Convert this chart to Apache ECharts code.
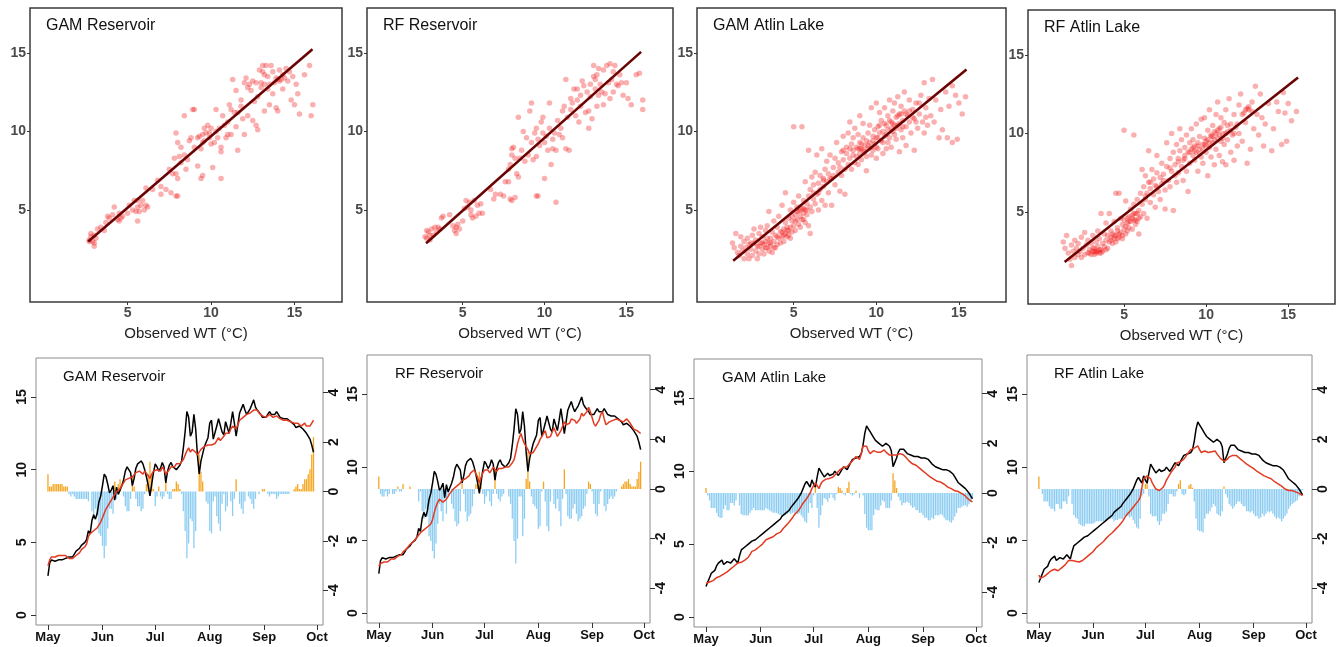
<!DOCTYPE html>
<html>
<head>
<meta charset="utf-8">
<script src="https://cdn.jsdelivr.net/npm/echarts@6/dist/echarts.min.js"></script>
<style>html,body{margin:0;padding:0;background:#fff}#c{width:1338px;height:647px}</style>
</head>
<body>
<div id="c"></div>
<script>
// ---------------- DATA ----------------
const panelTitlesTop = ['GAM Reservoir', 'RF Reservoir', 'GAM Atlin Lake', 'RF Atlin Lake'];
const panelTitlesBottom = ['GAM Reservoir', 'RF Reservoir', 'GAM Atlin Lake', 'RF Atlin Lake'];
const scatterTicks = [5, 10, 15];
const xAxisTitle = 'Observed WT (°C)';

// scatter: [observed, predicted]
const gamResPts = [[2.7,3.1],[2.8,3.3],[2.9,3.0],[3.0,3.4],[2.8,3.5],[3.0,2.9],[3.1,3.2],[2.7,3.0],[3.0,2.7],[3.2,3.8],[3.4,3.9],[3.6,3.7],[3.7,4.2],[3.8,4.6],[3.9,4.5],[4.1,4.7],[4.2,5.2],[4.4,4.4],[4.5,4.3],[4.6,4.5],[4.5,4.8],[4.7,4.6],[5.0,4.8],[5.1,5.3],[5.3,5.0],[5.4,5.6],[5.5,4.9],[5.6,5.2],[5.7,4.9],[5.6,5.6],[5.8,5.3],[5.9,5.6],[6.0,5.0],[6.1,5.3],[6.2,5.2],[5.6,4.3],[6.1,6.4],[6.5,6.3],[6.8,6.9],[7.0,6.5],[7.0,6.0],[7.3,6.3],[7.5,7.6],[7.7,7.3],[7.6,6.1],[7.9,5.9],[8.0,5.9],[7.9,7.3],[8.0,7.0],[8.1,8.4],[7.8,8.3],[7.9,9.9],[8.0,9.3],[8.2,9.0],[8.2,8.0],[8.4,8.5],[8.4,11.0],[8.5,7.6],[8.6,8.2],[8.7,9.4],[8.8,9.6],[8.9,11.4],[9.0,11.4],[9.0,9.0],[9.2,9.6],[9.3,9.7],[9.4,7.0],[9.5,7.2],[9.2,7.8],[9.4,8.9],[9.5,9.3],[9.5,9.8],[9.6,9.4],[9.6,10.2],[9.7,9.9],[9.8,10.4],[9.9,9.6],[9.9,9.9],[10.0,10.2],[10.0,9.2],[10.1,7.7],[10.2,9.3],[10.3,11.4],[10.3,10.0],[10.4,9.6],[10.5,10.2],[10.6,8.7],[10.6,9.0],[10.6,7.0],[10.7,11.0],[10.8,10.4],[10.9,9.6],[11.0,10.6],[11.0,9.8],[11.1,11.7],[11.2,11.4],[11.2,9.8],[11.3,13.3],[11.4,11.2],[11.5,12.6],[11.6,8.8],[11.5,10.3],[11.6,11.2],[11.8,11.6],[11.8,12.0],[11.9,10.8],[12.0,9.8],[12.0,13.1],[12.1,13.4],[12.2,11.0],[12.2,12.8],[12.3,13.0],[12.4,12.6],[12.5,13.2],[12.5,10.7],[12.6,11.9],[12.7,10.4],[12.7,13.1],[12.8,10.1],[12.8,12.2],[12.9,13.9],[13.0,12.8],[13.0,13.1],[13.1,13.8],[13.1,14.2],[13.2,13.6],[13.2,11.3],[13.2,13.0],[13.3,14.2],[13.4,12.7],[13.4,13.5],[13.5,11.7],[13.5,13.0],[13.6,14.2],[13.7,12.4],[13.7,13.8],[13.8,13.1],[13.9,11.5],[13.9,13.4],[14.0,13.3],[14.0,11.3],[14.1,13.2],[14.1,13.9],[14.2,13.3],[14.3,13.6],[14.3,12.7],[14.4,13.4],[14.5,14.0],[14.6,13.2],[14.7,13.8],[14.8,12.0],[14.9,13.5],[15.0,11.7],[15.1,13.0],[15.2,12.4],[15.3,11.1],[15.6,13.6],[15.9,14.2],[16.0,11.0],[16.1,11.7]];
const rfResPts = [[2.7,3.3],[2.8,3.2],[2.9,3.6],[3.0,3.4],[3.1,3.8],[3.2,3.4],[3.3,3.9],[3.4,3.6],[3.5,3.9],[3.6,3.8],[2.8,3.7],[3.0,3.1],[3.7,4.5],[3.8,4.6],[4.2,4.7],[4.4,4.0],[4.5,3.7],[4.6,3.5],[4.6,3.9],[4.7,4.1],[4.8,3.8],[5.0,4.3],[5.1,5.1],[5.2,5.6],[5.3,5.2],[5.4,5.5],[5.5,4.7],[5.5,5.0],[5.6,4.5],[5.7,5.6],[5.8,4.6],[5.9,5.3],[6.0,4.8],[6.1,5.4],[6.2,4.8],[6.7,6.3],[6.9,5.7],[7.0,6.0],[7.3,6.0],[7.5,5.9],[7.6,6.8],[7.8,6.8],[7.9,5.7],[8.0,5.6],[8.2,5.8],[7.8,7.6],[7.9,7.9],[8.0,8.5],[8.0,8.9],[8.1,9.0],[8.2,8.3],[8.3,7.3],[8.4,7.1],[8.4,10.9],[8.5,8.3],[8.6,8.8],[8.7,10.0],[8.8,8.1],[8.9,9.6],[9.0,8.5],[9.1,11.3],[9.2,11.8],[9.2,9.3],[9.3,8.2],[9.4,9.9],[9.5,10.2],[9.5,5.9],[9.6,5.9],[9.5,8.4],[9.6,9.5],[9.7,9.1],[9.8,10.6],[9.9,9.9],[9.9,10.9],[10.0,7.0],[10.0,9.3],[10.1,9.7],[10.2,8.8],[10.3,11.8],[10.3,10.2],[10.4,7.9],[10.5,9.5],[10.5,8.9],[10.6,9.9],[10.7,5.5],[10.7,8.8],[10.8,10.7],[10.9,9.8],[11.0,10.2],[11.1,11.3],[11.1,9.6],[11.2,11.6],[11.3,13.3],[11.3,8.9],[11.4,10.9],[11.5,8.8],[11.6,12.1],[11.6,11.4],[11.7,11.8],[11.8,12.7],[11.9,11.0],[12.0,12.0],[12.0,12.7],[12.1,10.6],[12.2,12.3],[12.2,11.6],[12.3,13.2],[12.4,12.9],[12.5,11.2],[12.6,12.5],[12.7,10.2],[12.7,11.3],[12.8,13.0],[12.8,12.2],[12.9,10.8],[13.0,14.2],[13.0,13.5],[13.1,13.3],[13.1,12.7],[13.2,13.6],[13.2,11.6],[13.3,14.0],[13.3,12.3],[13.4,13.0],[13.5,12.5],[13.6,13.9],[13.6,11.7],[13.7,12.4],[13.8,14.2],[13.9,13.1],[14.0,12.1],[14.0,14.3],[14.1,13.3],[14.2,12.5],[14.2,13.8],[14.3,14.2],[14.4,13.0],[14.5,12.9],[14.6,13.6],[14.7,13.1],[14.8,12.3],[15.0,13.1],[15.1,12.1],[15.3,11.7],[15.6,13.6],[15.8,13.7],[16.0,12.0],[16.0,11.4]];
const gamAtlinPts = [[1.3,2.9],[1.4,2.6],[1.5,3.5],[1.6,2.3],[1.7,2.1],[1.8,2.7],[1.8,3.3],[1.9,2.4],[2.0,1.9],[2.0,3.0],[2.1,2.6],[2.2,2.2],[2.2,3.2],[2.3,2.8],[2.3,1.9],[2.4,2.5],[2.5,3.4],[2.5,2.1],[2.6,2.9],[2.6,3.8],[2.7,2.4],[2.7,3.1],[2.8,2.7],[2.8,1.9],[2.9,3.5],[2.9,2.2],[3.0,2.9],[3.0,3.9],[3.1,2.5],[3.1,3.3],[3.2,2.8],[3.2,2.2],[3.3,3.0],[3.3,3.7],[3.4,2.6],[3.4,4.0],[3.5,2.9],[3.5,2.4],[3.5,4.9],[3.6,3.2],[3.6,2.7],[3.7,3.6],[3.7,2.3],[3.8,3.0],[3.8,4.3],[3.9,2.6],[3.9,3.4],[4.0,3.9],[4.0,2.8],[4.1,3.2],[4.1,4.6],[4.2,3.6],[4.2,2.9],[4.3,5.3],[4.3,3.3],[4.4,3.8],[4.4,3.0],[4.5,3.5],[4.5,6.1],[4.5,4.2],[4.6,3.3],[4.6,3.7],[4.7,3.4],[4.7,4.5],[4.8,3.9],[4.8,3.2],[4.8,5.0],[4.9,3.6],[4.9,4.3],[5.0,4.0],[5.0,10.3],[5.0,5.5],[5.1,4.7],[5.1,3.7],[5.2,4.4],[5.2,5.2],[5.3,4.9],[5.3,4.1],[5.3,5.9],[5.4,4.6],[5.4,3.9],[5.5,5.1],[5.5,4.4],[5.5,10.3],[5.6,4.8],[5.6,5.6],[5.7,4.2],[5.7,5.0],[5.7,6.8],[5.8,4.7],[5.8,5.4],[5.9,5.9],[5.9,4.0],[5.9,8.8],[6.0,5.2],[6.0,6.3],[6.0,3.5],[6.1,4.9],[6.1,7.1],[6.2,5.7],[6.2,6.6],[6.3,5.4],[6.3,7.4],[6.4,6.0],[6.4,8.5],[6.5,6.7],[6.5,5.0],[6.6,7.2],[6.6,6.3],[6.7,5.6],[6.7,8.9],[6.8,7.0],[6.8,6.5],[6.9,7.6],[6.9,5.3],[7.0,6.8],[7.0,8.1],[7.1,7.3],[7.1,6.1],[7.2,8.5],[7.3,7.0],[7.3,5.3],[7.4,7.7],[7.5,8.3],[7.5,6.6],[7.6,9.3],[7.7,7.4],[7.7,8.0],[7.8,6.2],[7.9,8.7],[7.9,7.2],[8.0,9.7],[8.0,8.2],[8.1,7.6],[8.1,6.0],[8.2,9.0],[8.2,8.6],[8.3,7.9],[8.3,9.9],[8.4,8.3],[8.4,10.6],[8.5,9.2],[8.5,7.6],[8.6,8.8],[8.6,9.6],[8.7,8.0],[8.7,10.2],[8.8,9.0],[8.8,8.4],[8.9,9.8],[8.9,7.9],[9.0,8.6],[9.0,9.3],[9.0,11.0],[9.1,8.9],[9.1,8.2],[9.2,9.6],[9.2,10.5],[9.3,8.7],[9.3,9.1],[9.4,7.5],[9.4,8.4],[9.5,9.9],[9.5,8.9],[9.6,10.4],[9.6,9.3],[9.7,8.5],[9.7,11.5],[9.8,9.7],[9.8,8.8],[9.9,10.1],[9.9,9.2],[10.0,8.3],[10.0,11.8],[10.0,9.6],[10.1,10.3],[10.1,8.9],[10.2,9.9],[10.2,11.2],[10.3,9.4],[10.3,10.7],[10.4,8.6],[10.4,10.0],[10.5,11.5],[10.5,9.7],[10.6,10.4],[10.6,8.9],[10.7,11.0],[10.7,9.3],[10.8,10.7],[10.8,12.0],[10.9,10.2],[10.9,9.0],[11.0,11.3],[11.0,10.5],[11.1,9.8],[11.1,11.8],[11.2,10.9],[11.2,9.5],[11.3,10.4],[11.3,12.2],[11.4,11.1],[11.4,8.7],[11.5,10.1],[11.5,11.6],[11.6,10.7],[11.6,9.6],[11.7,11.3],[11.7,12.5],[11.8,10.3],[11.8,9.1],[11.9,11.0],[12.0,10.6],[12.0,12.0],[12.1,9.9],[12.2,11.4],[12.3,10.8],[12.3,8.8],[12.4,11.8],[12.5,10.2],[12.6,11.1],[12.7,12.3],[12.8,10.6],[12.9,9.9],[12.9,13.1],[13.0,11.5],[13.1,10.4],[13.2,12.1],[13.3,11.0],[13.4,13.3],[13.5,10.6],[13.6,12.0],[13.8,9.6],[13.9,11.4],[14.0,10.1],[14.2,12.5],[14.3,9.6],[14.4,11.6],[14.6,12.9],[14.6,9.3],[14.8,12.3],[14.9,9.5],[15.0,11.8],[15.2,11.1],[15.4,12.2],
[2.4,2.9],[2.9,2.7],[3.1,2.9],[3.3,2.6],[3.4,3.2],[3.6,2.9],[3.8,2.6],[4.0,3.3],[4.3,3.6],[4.4,3.4],[4.6,3.9],[4.7,3.7],[4.9,4.6],[5.1,4.3],[5.2,4.9],[5.4,5.0],[5.6,5.1],[5.8,5.0],[5.6,4.4],[6.2,6.1],[6.5,6.1],[6.8,6.9],[7.2,7.0],[7.4,7.2],[7.8,7.7],[8.0,8.8],[8.4,8.9],[8.6,8.5],[8.9,8.9],[9.0,8.9],[9.1,9.2],[9.2,8.8],[9.4,9.4],[9.5,9.1],[9.7,9.0],[9.8,9.4],[10.0,9.0],[10.1,9.6],[10.2,10.4],[10.4,9.3],[10.5,10.5],[10.6,9.8],[10.7,10.1],[10.8,9.6],[10.9,10.6],[11.0,10.0],[11.1,10.4],[11.2,10.2],[11.3,11.0],[11.4,10.5],[11.5,11.1],[11.6,10.3],[11.8,11.1],[12.0,11.3],[12.2,10.9],[12.4,10.6],[12.6,11.8],[13.0,10.9]];
const rfAtlinPts = [[1.3,3.1],[1.4,2.7],[1.5,3.5],[1.6,2.4],[1.7,2.0],[1.8,1.6],[1.8,2.9],[1.9,2.5],[2.0,3.2],[2.0,2.1],[2.1,2.7],[2.2,2.3],[2.2,3.0],[2.3,2.5],[2.4,2.1],[2.4,3.4],[2.5,2.7],[2.6,2.3],[2.6,3.7],[2.7,2.9],[2.8,2.4],[2.8,3.2],[2.9,2.6],[3.0,2.3],[3.0,3.0],[3.1,2.5],[3.1,3.5],[3.2,2.7],[3.2,2.3],[3.3,3.1],[3.3,2.5],[3.4,2.8],[3.4,3.8],[3.5,2.4],[3.5,3.3],[3.6,2.6],[3.6,4.9],[3.7,3.0],[3.7,2.5],[3.8,3.6],[3.8,2.8],[3.9,3.2],[3.9,4.3],[4.0,2.7],[4.0,3.5],[4.1,3.1],[4.1,4.9],[4.2,3.4],[4.2,3.8],[4.3,3.0],[4.3,3.6],[4.4,3.3],[4.4,4.4],[4.5,3.5],[4.5,6.2],[4.5,3.1],[4.6,3.8],[4.6,4.0],[4.7,3.4],[4.7,6.2],[4.8,3.7],[4.8,4.6],[4.9,3.3],[4.9,4.2],[5.0,3.9],[5.0,10.2],[5.0,4.5],[5.1,3.6],[5.1,4.1],[5.1,5.7],[5.2,4.3],[5.2,3.8],[5.3,4.7],[5.3,4.0],[5.4,4.4],[5.4,5.2],[5.5,4.8],[5.5,3.9],[5.6,4.5],[5.6,9.9],[5.6,5.5],[5.7,4.2],[5.7,4.9],[5.8,5.8],[5.8,4.4],[5.9,5.1],[5.9,3.6],[6.0,4.7],[6.0,6.2],[6.1,5.5],[6.1,7.7],[6.2,4.9],[6.2,6.6],[6.3,5.8],[6.3,7.3],[6.4,6.2],[6.4,4.6],[6.5,6.9],[6.5,8.9],[6.6,5.6],[6.6,6.5],[6.7,7.7],[6.8,6.1],[6.8,7.1],[6.9,5.3],[6.9,6.7],[7.0,7.5],[7.0,8.6],[7.1,6.3],[7.2,7.2],[7.2,5.8],[7.3,8.1],[7.3,6.8],[7.4,7.4],[7.5,5.2],[7.5,6.4],[7.6,7.9],[7.6,9.4],[7.7,7.0],[7.8,8.4],[7.8,6.6],[7.9,10.0],[7.9,7.6],[8.0,5.1],[8.0,8.8],[8.1,7.3],[8.1,8.0],[8.2,9.3],[8.2,6.9],[8.3,8.4],[8.3,7.5],[8.4,10.3],[8.4,8.9],[8.5,7.9],[8.5,9.6],[8.6,8.3],[8.6,7.0],[8.7,9.1],[8.7,8.6],[8.8,9.9],[8.8,7.6],[8.9,8.8],[8.9,6.3],[9.0,9.4],[9.0,8.1],[9.1,9.0],[9.1,10.3],[9.2,8.6],[9.2,9.6],[9.3,8.3],[9.3,9.2],[9.4,10.6],[9.4,8.8],[9.5,9.4],[9.5,7.6],[9.6,9.0],[9.6,9.8],[9.7,8.5],[9.7,10.9],[9.8,9.3],[9.8,8.1],[9.9,9.7],[9.9,11.0],[10.0,8.8],[10.0,9.5],[10.1,10.2],[10.1,7.3],[10.2,9.1],[10.2,11.5],[10.3,9.8],[10.3,8.5],[10.4,10.5],[10.4,9.4],[10.5,8.0],[10.5,10.1],[10.6,11.2],[10.6,9.0],[10.7,9.7],[10.7,12.0],[10.8,10.3],[10.8,8.6],[10.9,9.5],[10.9,11.0],[11.0,10.0],[11.0,8.2],[11.1,10.7],[11.1,9.3],[11.2,11.5],[11.2,8.0],[11.3,10.1],[11.3,9.6],[11.4,12.2],[11.5,10.6],[11.5,8.8],[11.6,9.9],[11.7,11.2],[11.7,8.3],[11.8,10.4],[11.9,9.2],[12.0,11.8],[12.0,10.0],[12.1,12.5],[12.2,9.5],[12.3,11.3],[12.4,10.7],[12.5,11.6],[12.5,8.1],[12.6,11.5],[12.7,9.0],[12.8,12.0],[12.9,10.3],[13.0,13.0],[13.1,11.2],[13.2,9.9],[13.3,12.5],[13.4,11.0],[13.5,9.2],[13.6,10.6],[13.8,11.9],[14.0,8.9],[14.1,10.3],[14.3,12.0],[14.4,11.4],[14.6,9.3],[14.7,12.6],[14.8,11.3],[14.9,9.5],[15.0,11.9],[15.2,10.8],[15.5,11.4],
[2.9,2.4],[3.1,2.7],[3.2,2.5],[3.3,2.4],[3.4,2.5],[3.5,2.6],[3.6,2.4],[3.9,2.6],[4.2,3.2],[4.4,3.5],[4.6,3.3],[4.7,3.6],[4.9,3.5],[5.2,4.6],[5.3,4.4],[5.5,4.6],[5.6,4.9],[5.7,4.5],[5.8,4.9],[5.9,4.6],[6.3,6.0],[6.6,6.9],[7.0,6.6],[7.4,7.0],[7.8,7.8],[8.3,8.2],[8.7,8.4],[9.0,8.8],[9.2,9.1],[9.3,8.9],[9.5,9.2],[9.6,8.7],[9.8,9.0],[9.9,9.3],[10.0,9.2],[10.1,9.6],[10.2,9.4],[10.3,9.9],[10.4,9.8],[10.5,9.6],[10.6,10.0],[10.7,10.2],[10.8,9.9],[10.9,10.4],[11.0,9.7],[11.2,10.0],[11.3,10.5],[11.5,10.2],[11.7,10.0],[11.9,10.6],[12.2,11.2],[12.4,11.5],[12.6,11.7],[12.8,11.4]];

// fitted lines (start, end)
const gamResFit = [[2.64,3.0],[16.08,15.23]];
const rfResFit = [[2.76,2.89],[15.9,15.06]];
const gamAtlinFit = [[1.34,1.77],[15.46,13.94]];
const rfAtlinFit = [[1.38,1.82],[15.6,13.55]];

// time series: daily values, day 0 = May 1
const monthLabels = ['May','Jun','Jul','Aug','Sep','Oct'];
const monthStartDay = [0, 31, 61, 92, 123, 153];
const leftTicks = [0, 5, 10, 15];
const rightTicks = [-4, -2, 0, 2, 4];

const obsRes = [2.7,3.6,3.8,3.8,3.7,3.8,3.8,3.7,3.8,3.9,
3.9,3.8,4.0,4.1,4.0,4.2,4.4,4.5,4.6,4.8,
4.9,5.0,5.2,5.8,5.6,6.5,6.9,6.6,7.0,7.8,
8.2,8.9,9.7,9.5,9.0,8.4,8.6,8.9,7.9,8.8,
8.3,8.2,8.9,9.3,9.9,10.2,10.2,9.8,8.9,9.4,
10.1,10.4,10.5,10.6,10.4,10.0,9.5,8.9,8.2,9.0,
9.8,10.4,10.2,9.9,10.1,10.5,10.2,9.1,9.9,10.3,
10.5,10.2,10.1,10.0,10.0,10.3,10.6,11.5,12.6,14.0,
13.6,12.3,12.6,13.8,12.8,11.0,9.7,10.6,11.1,11.6,
11.9,12.2,13.2,13.4,12.1,12.0,13.0,13.5,13.6,12.6,
12.4,13.3,13.2,12.5,13.2,14.0,13.2,12.3,13.1,13.9,
14.2,14.5,14.1,13.8,14.0,14.2,14.5,14.8,14.3,14.1,
14.0,13.8,13.6,13.5,13.6,13.8,14.0,13.8,13.7,13.8,
14.0,13.8,13.6,13.5,13.5,13.6,13.5,13.4,13.3,13.2,
13.1,12.9,12.9,13.0,12.9,12.8,12.7,12.5,12.4,12.1,
11.7,11.2];
const gamRes = [3.4,3.8,4.0,4.1,4.0,4.1,4.1,4.0,4.1,4.1,
4.1,4.0,3.9,3.9,3.9,4.0,4.1,4.2,4.3,4.5,
4.6,4.7,4.9,5.4,5.6,5.7,5.8,5.9,6.0,6.1,
6.4,6.7,7.0,7.3,7.5,7.7,7.9,8.0,8.3,8.5,
8.6,8.7,8.9,9.1,9.3,9.4,9.4,9.5,9.5,9.6,
9.8,9.8,9.9,9.8,9.7,9.9,9.8,9.6,9.4,9.7,
9.9,9.8,10.0,10.1,9.9,10.2,10.0,9.7,9.8,10.0,
10.2,10.3,10.2,10.4,10.3,10.4,10.5,10.7,11.0,11.3,
11.5,11.2,11.4,11.5,11.2,11.0,11.2,11.4,11.5,11.6,
11.5,11.7,11.6,11.7,11.7,11.8,12.0,12.2,12.0,12.1,
12.3,12.5,12.6,12.5,12.8,13.0,12.9,12.8,13.1,13.4,
13.5,13.6,13.7,13.8,13.8,13.9,14.0,14.1,14.0,14.1,
13.9,13.8,13.7,13.6,13.6,13.7,13.8,13.7,13.6,13.7,
13.7,13.6,13.5,13.4,13.4,13.5,13.4,13.3,13.3,13.2,
13.2,13.1,13.2,13.1,13.0,13.1,13.2,13.0,13.1,13.0,
13.2,13.4];
const rfRes = [3.2,3.4,3.5,3.5,3.6,3.5,3.6,3.7,3.6,3.7,
3.8,3.9,3.9,4.0,4.2,4.2,4.4,4.5,4.7,4.8,
4.9,5.0,5.2,5.3,5.5,5.6,5.7,5.8,5.9,5.9,
6.1,6.4,6.9,7.3,7.6,7.8,7.7,7.6,7.5,7.8,
8.0,8.2,8.3,8.5,8.6,8.7,8.8,8.9,9.1,9.2,
9.2,9.1,9.4,9.6,9.7,9.8,9.7,9.3,8.9,9.3,
9.6,9.8,9.9,9.8,9.6,9.8,10.0,9.9,9.7,9.9,
10.0,9.9,9.9,10.0,10.0,10.0,10.0,10.3,10.5,11.0,
11.6,12.0,12.3,11.9,11.6,11.4,11.2,10.9,10.8,11.0,
11.2,11.4,11.6,11.9,12.0,12.3,12.5,12.0,11.9,12.1,
12.4,12.7,12.4,12.1,12.3,12.5,12.8,13.1,12.9,12.8,
13.0,13.3,13.3,13.2,13.0,12.9,13.3,13.7,13.5,13.4,
13.8,14.1,13.8,13.4,13.0,12.8,12.9,13.2,13.6,13.8,
13.3,12.9,13.0,13.1,13.2,13.2,13.2,13.3,13.3,13.2,
13.2,13.1,13.2,13.3,13.3,13.0,12.8,12.6,12.5,12.5,
12.4,12.3];
const obsAtlin = [2.1,2.4,2.7,3.0,3.1,3.2,3.5,3.7,3.8,3.9,
3.6,3.5,3.8,3.9,3.7,3.8,4.0,3.9,3.7,4.2,
4.6,4.7,4.8,4.9,5.0,5.1,5.2,5.2,5.3,5.4,
5.5,5.6,5.7,5.8,5.9,6.0,6.1,6.2,6.3,6.4,
6.5,6.6,6.7,6.9,7.0,7.1,7.2,7.3,7.5,7.6,
7.8,7.9,8.1,8.2,8.5,8.8,9.1,9.3,9.1,8.9,
9.4,9.1,8.9,9.6,10.2,10.0,9.8,9.6,9.7,9.85,
9.7,9.6,9.8,10.0,9.9,9.7,9.9,10.1,10.3,10.4,
10.1,10.0,10.6,10.8,10.9,10.9,10.9,11.0,11.2,11.8,
12.6,13.1,12.9,12.7,12.8,12.3,12.1,12.0,11.9,11.8,
11.7,11.8,11.9,11.8,11.7,11.4,10.3,10.6,10.9,11.3,
11.5,11.6,11.5,11.4,11.2,11.1,11.1,11.1,11.0,11.1,
11.0,11.0,10.9,10.9,10.9,10.8,10.8,10.7,10.5,10.5,
10.3,10.2,10.2,10.1,10.1,10.1,10.1,10.0,10.0,10.0,
9.8,9.6,9.4,9.2,9.1,9.0,8.9,8.8,8.7,8.5,
8.3,8.1];
const gamAtlin = [2.3,2.3,2.4,2.4,2.5,2.6,2.7,2.75,2.8,2.9,
2.95,3.0,3.1,3.2,3.3,3.4,3.5,3.6,3.7,3.7,
3.75,3.8,3.9,4.0,4.1,4.3,4.5,4.6,4.6,4.7,
4.8,4.9,5.0,5.1,5.3,5.35,5.4,5.45,5.5,5.6,
5.7,5.75,5.8,5.95,6.1,6.2,6.35,6.5,6.65,6.8,
7.0,7.1,7.25,7.4,7.6,7.8,7.95,8.1,8.3,8.5,
8.8,9.0,9.2,9.0,8.8,9.1,9.3,9.4,9.45,9.5,
9.5,9.55,9.6,9.7,9.85,9.95,10.1,10.2,10.25,10.3,
10.3,10.45,10.55,10.7,10.85,11.0,10.9,10.8,11.2,11.7,
11.75,11.7,11.4,11.2,11.3,11.4,11.45,11.3,11.2,11.3,
11.4,11.45,11.3,11.2,11.1,11.1,11.1,11.1,11.1,11.15,
11.2,11.1,11.1,11.0,10.85,10.7,10.6,10.5,10.45,10.4,
10.3,10.2,10.1,10.0,9.9,9.8,9.7,9.6,9.5,9.45,
9.4,9.3,9.3,9.25,9.2,9.1,9.0,8.9,8.85,8.8,
8.7,8.65,8.6,8.6,8.5,8.45,8.4,8.3,8.15,8.05,
7.95,7.9];
const rfAtlin = [2.6,2.4,2.5,2.5,2.6,2.7,2.8,2.9,3.0,3.0,
3.0,2.9,3.0,3.1,3.2,3.3,3.4,3.6,3.7,3.6,
3.55,3.55,3.6,3.5,3.55,3.6,3.7,3.8,3.9,4.0,
4.1,4.2,4.35,4.5,4.6,4.7,4.8,4.9,5.05,5.15,
5.3,5.4,5.5,5.6,5.75,5.85,6.0,6.1,6.3,6.5,
6.7,6.8,6.95,7.1,7.25,7.4,7.55,7.7,7.9,8.6,
9.2,9.3,9.4,9.3,9.2,8.9,8.7,8.5,8.4,8.4,
8.4,8.6,8.8,9.1,9.3,9.5,9.7,9.8,10.0,10.3,
10.3,10.35,10.4,10.55,10.7,10.9,11.05,11.2,11.25,11.3,
11.4,11.45,11.2,11.0,11.05,11.1,11.1,11.0,11.0,11.05,
11.1,11.1,10.9,10.75,10.6,10.5,10.4,10.4,10.55,10.7,
10.8,10.8,10.8,10.8,10.7,10.6,10.5,10.4,10.3,10.2,
10.1,10.05,10.0,9.9,9.8,9.7,9.6,9.55,9.5,9.4,
9.3,9.3,9.25,9.2,9.1,9.0,8.9,8.85,8.8,8.7,
8.6,8.5,8.4,8.4,8.4,8.4,8.35,8.3,8.25,8.2,
8.1,8.05];

// ---------------- CHART ----------------
const FONT = '"Liberation Sans", Arial, Helvetica, sans-serif';
const ORANGE = '#F4A621';
const BLUE = '#8DCDF2';
const chart = echarts.init(document.getElementById('c'), null, {renderer: 'canvas'});

const topGrids = [
  {left: 30, top: 8, width: 312, height: 294},
  {left: 367, top: 8, width: 306, height: 294},
  {left: 697, top: 8, width: 309, height: 294},
  {left: 1028, top: 10, width: 307, height: 294}
];
const botGrids = [
  {left: 36, top: 358, width: 287, height: 267},
  {left: 367, top: 355, width: 283, height: 268},
  {left: 694, top: 359, width: 288, height: 268},
  {left: 1027, top: 355, width: 285, height: 268}
];

const grid = [], xAxis = [], yAxis = [], series = [], title = [];

const topScatter = [gamResPts, rfResPts, gamAtlinPts, rfAtlinPts];
const topFit = [gamResFit, rfResFit, gamAtlinFit, rfAtlinFit];

topGrids.forEach((g, i) => {
  grid.push(Object.assign({show: true, borderColor: '#3a3a3a', borderWidth: 1.5, backgroundColor: 'transparent'}, g));
  const axisCommon = {
    type: 'value', gridIndex: i, min: -0.85, max: 17.85,
    axisLine: {show: false, onZero: false}, splitLine: {show: false},
    axisTick: {show: true, inside: false, length: 3, customValues: scatterTicks, lineStyle: {color: '#333', width: 1}},
    axisLabel: {customValues: scatterTicks, color: '#4a4a4a', fontWeight: 'bold', fontSize: 14, fontFamily: FONT, margin: 4}
  };
  xAxis.push(Object.assign({}, axisCommon, {
    name: xAxisTitle, nameLocation: 'middle', nameGap: 24,
    nameTextStyle: {fontSize: 15, color: '#222', fontFamily: FONT}
  }));
  yAxis.push(Object.assign({}, axisCommon));
  series.push({
    type: 'scatter', xAxisIndex: i, yAxisIndex: i, data: topScatter[i],
    symbolSize: 5.5, itemStyle: {color: 'rgba(240,20,20,0.42)'}, silent: true
  });
  series.push({
    type: 'line', xAxisIndex: i, yAxisIndex: i, data: topFit[i], showSymbol: false,
    lineStyle: {color: '#6a0303', width: 2.6}, silent: true, z: 5
  });
  title.push({text: panelTitlesTop[i], left: g.left + 16, top: g.top + 10, padding: 0,
    textStyle: {fontSize: 16, fontWeight: 'normal', color: '#111', fontFamily: FONT}});
});

const botObs = [obsRes, obsRes, obsAtlin, obsAtlin];
const botPred = [gamRes, rfRes, gamAtlin, rfAtlin];
const titleOffsets = [[27, 11], [28, 11], [28, 11], [27, 11]];

botGrids.forEach((g, k) => {
  const gi = 4 + k;
  grid.push(Object.assign({show: true, borderColor: '#8c8c8c', borderWidth: 1, backgroundColor: 'transparent'}, g));
  xAxis.push({
    type: 'value', gridIndex: gi, min: -6.8, max: 156.4,
    axisLine: {show: false, onZero: false}, splitLine: {show: false},
    axisTick: {show: true, inside: false, length: 5, customValues: monthStartDay, lineStyle: {color: '#333'}},
    axisLabel: {customValues: monthStartDay, formatter: v => monthLabels[monthStartDay.indexOf(v)],
      color: '#111', fontWeight: 'bold', fontSize: 13, fontFamily: FONT, margin: 6}
  });
  const leftIdx = yAxis.length;
  yAxis.push({
    type: 'value', gridIndex: gi, position: 'left', min: -0.68, max: 17.68,
    axisLine: {show: false, onZero: false}, splitLine: {show: false},
    axisTick: {show: true, inside: false, length: 5, customValues: leftTicks, lineStyle: {color: '#333'}},
    axisLabel: {customValues: leftTicks, rotate: 90, color: '#111', fontWeight: 'bold', fontSize: 14, fontFamily: FONT, margin: 7}
  });
  const rightIdx = yAxis.length;
  yAxis.push({
    type: 'value', gridIndex: gi, position: 'right', min: -5.4, max: 5.4, alignTicks: false,
    axisLine: {show: false, onZero: false}, splitLine: {show: false},
    axisTick: {show: true, inside: false, length: 5, customValues: rightTicks, lineStyle: {color: '#333'}},
    axisLabel: {customValues: rightTicks, rotate: 90, color: '#111', fontWeight: 'bold', fontSize: 14, fontFamily: FONT, margin: 4}
  });
  const obs = botObs[k], pred = botPred[k];
  const obsData = obs.map((v, d) => [d, v]);
  const predData = pred.map((v, d) => [d, v]);
  const diffData = pred.map((v, d) => [d, +(v - obs[d]).toFixed(2)]);
  series.push({
    type: 'bar', xAxisIndex: gi, yAxisIndex: rightIdx, data: diffData, barWidth: 1.3,
    itemStyle: {color: p => (p.value[1] >= 0 ? ORANGE : BLUE)}, silent: true, z: 1
  });
  series.push({
    type: 'line', xAxisIndex: gi, yAxisIndex: leftIdx, data: obsData, showSymbol: false,
    lineStyle: {color: '#000', width: 1.5}, silent: true, z: 3
  });
  series.push({
    type: 'line', xAxisIndex: gi, yAxisIndex: leftIdx, data: predData, showSymbol: false,
    lineStyle: {color: '#E23B22', width: 1.5}, silent: true, z: 4
  });
  title.push({text: panelTitlesBottom[k], left: g.left + titleOffsets[k][0], top: g.top + titleOffsets[k][1], padding: 0,
    textStyle: {fontSize: 15, fontWeight: 'normal', color: '#111', fontFamily: FONT}});
});

chart.setOption({
  animation: false,
  backgroundColor: '#fff',
  title, grid, xAxis, yAxis, series
});
</script>
</body>
</html>
